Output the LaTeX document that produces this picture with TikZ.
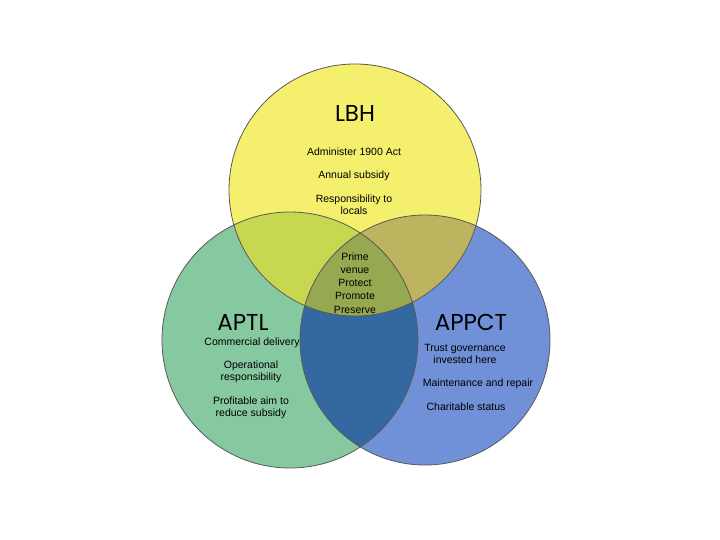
\documentclass[tikz,border=0pt]{standalone}
\usepackage{fontspec}
\setmainfont{Liberation Sans}
\newfontfamily\ttlfont{Poppins}
\definecolor{cy}{RGB}{245,239,110}
\definecolor{cg}{RGB}{134,200,160}
\definecolor{cb}{RGB}{112,144,216}
\definecolor{cyg}{RGB}{200,215,80}
\definecolor{cyb}{RGB}{190,180,95}
\definecolor{cgb}{RGB}{52,104,160}
\definecolor{call}{RGB}{150,168,80}
\begin{document}
\begin{tikzpicture}[x=1pt,y=-1pt,
  lbl/.style={font=\fontsize{10.5}{12}\selectfont,align=center,inner sep=0},
  ttl/.style={font=\ttlfont\fontsize{23}{26}\selectfont,inner sep=0}]
\useasboundingbox (0,0) rectangle (720,540);
\def\cA{(355,190) circle (126)}
\def\cB{(290,340) circle (128)}
\def\cC{(425,340) circle (125)}
\fill[cg] \cB;
\fill[cb] \cC;
\fill[cy] \cA;
\begin{scope}\clip \cA; \fill[cyg] \cB; \end{scope}
\begin{scope}\clip \cA; \fill[cyb] \cC; \end{scope}
\begin{scope}\clip \cB; \fill[cgb] \cC; \end{scope}
\begin{scope}\clip \cA; \clip \cB; \fill[call] \cC; \end{scope}
\draw[gray!70!black,line width=0.8] \cA \cB \cC;
\node[ttl] (lbh) at (355,113) {LBH};
\node[ttl] (aptl) at (243,322) {APTL};
\node[ttl] (appct) at (471,322) {APPCT};
\node[lbl] (t1) at (354,152) {Administer 1900 Act};
\node[lbl] (t2) at (354,176) {Annual subsidy};
\node[lbl] (t3) at (354,205) {Responsibility to\\locals};
\node[lbl,font=\fontsize{10.5}{13.2}\selectfont] (t4) at (355,283) {Prime\\venue\\Protect\\Promote\\Preserve};
\node[lbl] (t5) at (252,343) {Commercial delivery};
\node[lbl] (t6) at (251,372) {Operational\\responsibility};
\node[lbl] (t7) at (251,408) {Profitable aim to\\reduce subsidy};
\node[lbl] (t8) at (465,354) {Trust governance\\invested here};
\node[lbl] (t9) at (478,384) {Maintenance and repair};
\node[lbl] (t10) at (466,407) {Charitable status};
\end{tikzpicture}
\end{document}
